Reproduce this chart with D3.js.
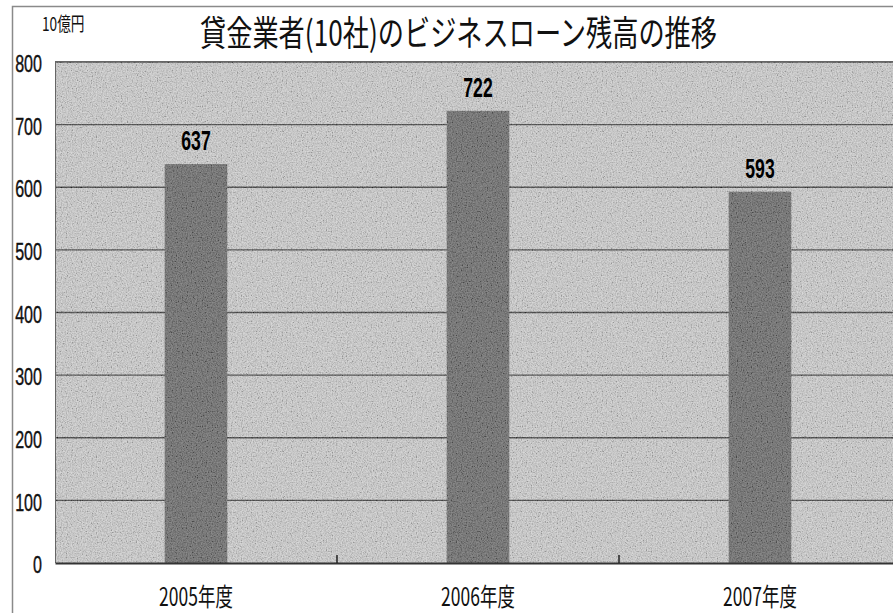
<!DOCTYPE html>
<html><head><meta charset="utf-8">
<script src="https://cdn.jsdelivr.net/npm/d3@7"></script>
<style>body{margin:0;background:#fff}svg{display:block}</style>
</head><body>
<script>
const categories = ["2005年度", "2006年度", "2007年度"];
const values = [637, 722, 593];
const yTicks = [0, 100, 200, 300, 400, 500, 600, 700, 800];
const title = "貸金業者(10社)のビジネスローン残高の推移";
const unitLabel = "10億円";

const W = 893, H = 613;
const m = {left: 55, right: 901, top: 62, bottom: 563};
const svg = d3.select("body").append("svg").attr("width", W).attr("height", H);

const defs = svg.append("defs");
const f = defs.append("filter").attr("id","noise").attr("x",0).attr("y",0).attr("width","100%").attr("height","100%");
f.append("feTurbulence").attr("type","fractalNoise").attr("baseFrequency",0.8).attr("numOctaves",2).attr("seed",3).attr("result","t");
f.append("feColorMatrix").attr("type","matrix")
 .attr("values","1.8 0 0 0 -0.4  1.8 0 0 0 -0.4  1.8 0 0 0 -0.4  0 0 0 0 1");
defs.append("clipPath").attr("id","clip").append("rect")
 .attr("x",m.left).attr("y",m.top).attr("width",W-m.left).attr("height",m.bottom-m.top);

const x = d3.scaleBand().domain(categories).range([m.left, m.right]).padding(0);
const y = d3.scaleLinear().domain([0, 800]).range([m.bottom, m.top]);
const barW = x.bandwidth() * 0.222;

// outer frame
svg.append("path").attr("d", `M12.5,${H} L12.5,6.5 L${W},6.5`).attr("fill","none").attr("stroke","#8a8a8a").attr("stroke-width",1.5);

// plot background
svg.append("rect").attr("x",m.left).attr("y",m.top).attr("width",W-m.left).attr("height",m.bottom-m.top).attr("fill","#cbcbcb");

// gridlines
svg.append("g").selectAll("line").data(yTicks.filter(d=>d>0)).join("line")
 .attr("x1",m.left).attr("x2",W).attr("y1",d=>y(d)).attr("y2",d=>y(d))
 .attr("stroke","#333").attr("stroke-width",1.4);

// bars
svg.append("g").selectAll("rect").data(values).join("rect")
 .attr("x",(d,i)=>x(categories[i]) + x.bandwidth()/2 - barW/2)
 .attr("y",d=>y(d)).attr("width",barW).attr("height",d=>y(0)-y(d))
 .attr("fill","#626262");

// noise overlay
svg.append("rect").attr("x",m.left).attr("y",m.top).attr("width",W-m.left).attr("height",m.bottom-m.top)
 .attr("filter","url(#noise)").attr("opacity",0.26).attr("clip-path","url(#clip)");

// left axis line
svg.append("line").attr("x1",m.left+0.5).attr("x2",m.left+0.5).attr("y1",m.top).attr("y2",m.bottom).attr("stroke","#666").attr("stroke-width",1);

// bottom axis
const xAxis = d3.axisBottom(x).tickSize(0).tickFormat("");
const gx = svg.append("g").attr("transform",`translate(0,${m.bottom})`).call(xAxis);
gx.select(".domain").attr("stroke","#333").attr("stroke-width",2);
// category separators (inward ticks)
svg.append("g").selectAll("line").data(categories.slice(1)).join("line")
 .attr("x1",d=>x(d)).attr("x2",d=>x(d)).attr("y1",m.bottom).attr("y2",m.bottom-8)
 .attr("stroke","#222").attr("stroke-width",1.5);

// y tick labels
const yAxis = d3.axisLeft(y).tickValues(yTicks).tickSize(0).tickPadding(0);
const gy = svg.append("g").attr("transform",`translate(42,1)`).call(yAxis);
gy.select(".domain").remove();
gy.selectAll("text")
 .attr("x",0).attr("dy","0.36em")
 .attr("transform","scale(0.67,1)")
 .attr("font-family","'Liberation Sans', Arial, sans-serif").attr("font-size",24)
 .attr("fill","#111").attr("stroke","#111").attr("stroke-width",0.4);

// x labels
svg.append("g").selectAll("text").data(categories).join("text")
 .attr("transform",d=>`translate(${x(d)+x.bandwidth()/2},606) scale(0.7,1)`)
 .attr("text-anchor","middle").attr("font-family","'Noto Sans CJK JP', 'Liberation Sans', sans-serif")
 .attr("font-size",25).attr("fill","#111").text(d=>d);

// value labels
svg.append("g").selectAll("text").data(values).join("text")
 .attr("transform",(d,i)=>`translate(${x(categories[i])+x.bandwidth()/2},${y(d)-14}) scale(0.63,1)`)
 .attr("text-anchor","middle").attr("font-family","'Liberation Sans', Arial, sans-serif")
 .attr("font-weight","bold").attr("font-size",28).attr("fill","#000").text(d=>d);

// title
svg.append("text").attr("x",200).attr("y",46).attr("textLength",517).attr("lengthAdjust","spacingAndGlyphs")
 .attr("font-family","'Noto Sans CJK JP', sans-serif").attr("font-size",35).attr("fill","#111").text(title);

// unit label
svg.append("text").attr("transform","translate(42,31) scale(0.72,1)")
 .attr("font-family","'Noto Sans CJK JP', sans-serif").attr("font-size",19).attr("fill","#111").text(unitLabel);
</script>
</body></html>
